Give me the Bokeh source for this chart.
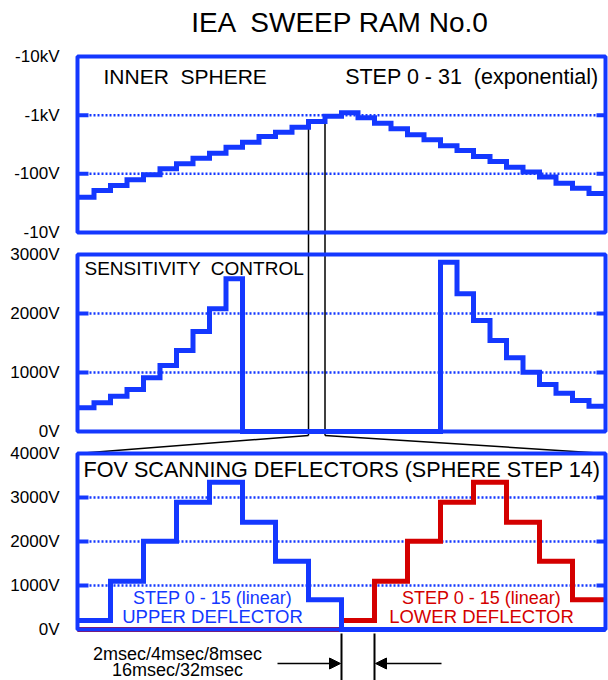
import numpy as np
from bokeh.plotting import figure
from bokeh.models import Range1d, LogScale, Arrow, NormalHead
from bokeh.core.properties import value
from bokeh.embed import file_html
from bokeh.resources import INLINE

# ---------------- data ----------------
inner_sphere_V = [-40, -52, -63, -79, -96, -122, -148, -185, -225, -284, -346, -432,
                  -513, -625, -780, -960, -1096, -901, -730, -586, -462, -380, -301,
                  -250, -198, -162, -130, -107, -88, -69, -57, -46]
sensitivity_V = [402, 486, 599, 712, 910, 1119, 1373, 1695, 2079, 2588,
                 0, 0, 0, 0, 0, 0, 0, 0, 0, 0, 0, 0,
                 2870, 2333, 1881, 1542, 1249, 1006, 797, 650, 525, 429]
upper_deflector_V = [205, 1098, 2008, 2894, 3348, 2439, 1553, 674,
                     0, 0, 0, 0, 0, 0, 0, 0]
lower_deflector_V = [0, 0, 0, 0, 0, 0, 0, 0,
                     205, 1098, 2008, 2894, 3348, 2439, 1553, 674]

sphere_ticks = [10000, 1000, 100, 10]
sphere_tick_labels = ["-10kV", "-1kV", "-100V", "-10V"]
sphere_grid = [1000, 100]
sens_ticks = [3000, 2000, 1000, 0]
sens_tick_labels = ["3000V", "2000V", "1000V", "0V"]
sens_grid = [2000, 1000]
fov_ticks = [4000, 3000, 2000, 1000, 0]
fov_tick_labels = ["4000V", "3000V", "2000V", "1000V", "0V"]
fov_grid = [3000, 2000, 1000]
marked_sphere_step = 14
marked_fov_step = 8

# ---------------- layout / style ----------------
W, H = 608, 680
X0, X1 = 77, 605
TOP = (56, 232)
MID = (254, 431)
BOT = (453, 629)
BLUE = "#1438ff"
RED = "#d40000"
FONT = value("Liberation Sans")
LABEL_X = 59
NB = "\u00a0"  # keeps the double spaces of the original visible


def lin_range(vmin, vmax, top_px, bot_px):
    k = (bot_px - top_px) / (vmax - vmin)
    return Range1d(start=vmin - (H - bot_px) / k, end=vmax + top_px / k)


def log_range(vmin, vmax, top_px, bot_px):
    lo, hi = np.log10(vmin), np.log10(vmax)
    k = (bot_px - top_px) / (hi - lo)
    return Range1d(start=10 ** (lo - (H - bot_px) / k), end=10 ** (hi + top_px / k))


def step_range(n):
    k = (X1 - X0) / n
    return Range1d(start=-X0 / k, end=n + (W - X1) / k)


def px32(i):
    return X0 + i * (X1 - X0) / 32


def px16(i):
    return X0 + i * (X1 - X0) / 16


p = figure(width=W, height=H, x_range=Range1d(0, W), y_range=Range1d(H, 0),
           output_backend="svg", toolbar_location=None, min_border=0,
           x_axis_location=None, y_axis_location=None)
p.outline_line_color = None
p.background_fill_color = "white"
p.border_fill_color = "white"
p.xgrid.visible = False
p.ygrid.visible = False

p.extra_x_ranges = {"s32": step_range(32), "s16": step_range(16)}
p.extra_y_ranges = {"sph": log_range(10, 10000, *TOP),
                    "sens": lin_range(0, 3000, *MID),
                    "fov": lin_range(0, 4000, *BOT)}
p.extra_y_scales = {"sph": LogScale()}

panels = [("s32", "sph", 32, sphere_ticks, sphere_tick_labels, sphere_grid),
          ("s32", "sens", 32, sens_ticks, sens_tick_labels, sens_grid),
          ("s16", "fov", 16, fov_ticks, fov_tick_labels, fov_grid)]

for xr, yr, n, ticks, labels, grid in panels:
    # dotted grid lines
    p.segment(x0=[0] * len(grid), x1=[n] * len(grid), y0=grid, y1=grid,
              x_range_name=xr, y_range_name=yr, line_color=BLUE,
              line_width=2.5, line_dash="2 2")
    # inward tick marks at both sides
    p.segment(x0=[X0] * len(grid), x1=[X0 + 11] * len(grid), y0=grid, y1=grid,
              y_range_name=yr, line_color=BLUE, line_width=4)
    p.segment(x0=[X1 - 9] * len(grid), x1=[X1] * len(grid), y0=grid, y1=grid,
              y_range_name=yr, line_color=BLUE, line_width=4)
    # tick labels
    p.text(x=[LABEL_X] * len(ticks), y=ticks, text=labels, y_range_name=yr,
           text_align="right", text_baseline="middle", text_font=FONT,
           text_font_size="17px", text_color="black")

# connecting black lines (sphere step 14 -> FOV panel)
mk = marked_sphere_step
abs_sph = np.abs(inner_sphere_V)
y_left = min(abs_sph[mk - 1], abs_sph[mk])
y_right = min(abs_sph[mk], abs_sph[mk + 1])
p.segment(x0=[mk, mk + 1], x1=[mk, mk + 1], y0=[y_left, y_right], y1=[10, 10],
          x_range_name="s32", y_range_name="sph", line_color="black", line_width=1.5)
p.segment(x0=[px32(mk), px32(mk + 1)], x1=[px32(mk), px32(mk + 1)],
          y0=[TOP[1]] * 2, y1=[435] * 2, line_color="black", line_width=1.5)
p.segment(x0=[px32(mk), px32(mk + 1)], y0=[435, 435], x1=[X0, X1], y1=[BOT[0]] * 2,
          line_color="black", line_width=1.5)

# panel frames
p.quad(left=[0], right=[32], bottom=[10], top=[10000], x_range_name="s32",
       y_range_name="sph", fill_color=None, line_color=BLUE, line_width=4)
p.quad(left=[0], right=[32], bottom=[0], top=[3000], x_range_name="s32",
       y_range_name="sens", fill_color=None, line_color=BLUE, line_width=4)


def draw_steps(vals, xr, yr, color, absval=False):
    v = np.abs(vals) if absval else np.asarray(vals, dtype=float)
    x = np.arange(len(v) + 1)
    y = np.append(v, v[-1])
    p.step(x, y, mode="after", x_range_name=xr, y_range_name=yr,
           line_color=color, line_width=5, line_join="miter")


draw_steps(inner_sphere_V, "s32", "sph", BLUE, absval=True)
draw_steps(sensitivity_V, "s32", "sens", BLUE)
draw_steps(lower_deflector_V, "s16", "fov", RED)
p.quad(left=[0], right=[16], bottom=[0], top=[4000], x_range_name="s16",
       y_range_name="fov", fill_color=None, line_color=BLUE, line_width=4)
draw_steps(upper_deflector_V, "s16", "fov", BLUE)

# timing markers below the FOV panel
mf = marked_fov_step
p.segment(x0=[mf, mf + 1], x1=[mf, mf + 1], y0=[633, 633], y1=[680, 680],
          x_range_name="s16", line_color="black", line_width=2)
p.add_layout(Arrow(end=NormalHead(size=11, fill_color="black", line_color="black"),
                   x_start=277, y_start=663, x_end=px16(mf) - 1, y_end=663,
                   line_color="black", line_width=1.5))
p.add_layout(Arrow(end=NormalHead(size=11, fill_color="black", line_color="black"),
                   x_start=441, y_start=663, x_end=px16(mf + 1) + 1, y_end=663,
                   line_color="black", line_width=1.5))


def label(x, y, txt, size, align="left", color="black"):
    p.text(x=[x], y=[y], text=[txt], text_align=align, text_baseline="middle",
           text_font=FONT, text_font_size=size, text_color=color)


label(340, 22, "IEA " + NB + "SWEEP RAM No.0", "28px", "center")
label(103, 76, "INNER " + NB + "SPHERE", "21px")
label(598, 76, "STEP 0 - 31 " + NB + "(exponential)", "21.5px", "right")
label(84, 267.5, "SENSITIVITY " + NB + "CONTROL", "19px")
label(83, 469, "FOV SCANNING DEFLECTORS (SPHERE STEP 14)", "21.6px")
label(212, 597, "STEP 0 - 15 (linear)", "18px", "center", BLUE)
label(212, 615.5, "UPPER DEFLECTOR", "18.5px", "center", BLUE)
label(481, 597, "STEP 0 - 15 (linear)", "18px", "center", RED)
label(481, 615.5, "LOWER DEFLECTOR", "18.5px", "center", RED)
label(177, 653, "2msec/4msec/8msec", "18px", "center")
label(177, 669.5, "16msec/32msec", "18px", "center")

open("out.html", "w").write(file_html(p, INLINE))
